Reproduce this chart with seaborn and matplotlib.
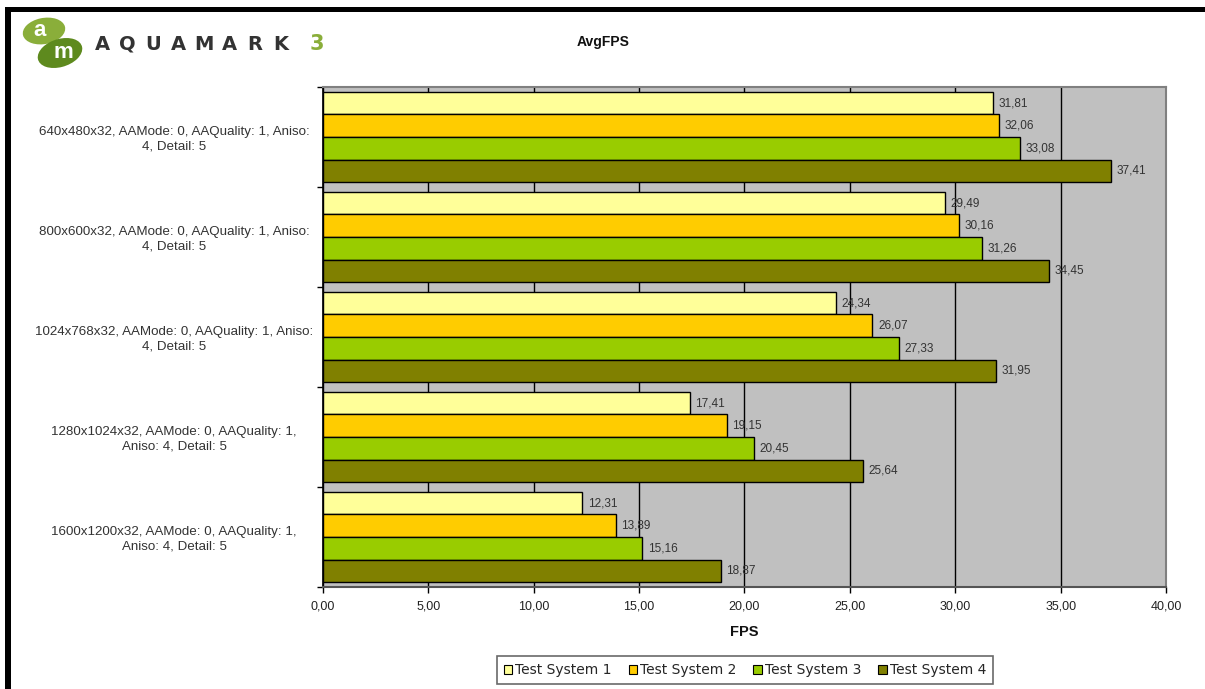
import matplotlib
matplotlib.use("Agg")
import matplotlib.pyplot as plt
import seaborn as sns
import pandas as pd
from matplotlib.patches import Rectangle, Ellipse, Patch

configs = [
    "640x480x32, AAMode: 0, AAQuality: 1, Aniso:\n4, Detail: 5",
    "800x600x32, AAMode: 0, AAQuality: 1, Aniso:\n4, Detail: 5",
    "1024x768x32, AAMode: 0, AAQuality: 1, Aniso:\n4, Detail: 5",
    "1280x1024x32, AAMode: 0, AAQuality: 1,\nAniso: 4, Detail: 5",
    "1600x1200x32, AAMode: 0, AAQuality: 1,\nAniso: 4, Detail: 5",
]
systems = ["Test System 1", "Test System 2", "Test System 3", "Test System 4"]
ts1 = [31.81, 29.49, 24.34, 17.41, 12.31]
ts2 = [32.06, 30.16, 26.07, 19.15, 13.89]
ts3 = [33.08, 31.26, 27.33, 20.45, 15.16]
ts4 = [37.41, 34.45, 31.95, 25.64, 18.87]
colors = ["#FFFF99", "#FFCC00", "#99CC00", "#808000"]
xticks = [0, 5, 10, 15, 20, 25, 30, 35, 40]

rows = []
for s, vals in zip(systems, [ts1, ts2, ts3, ts4]):
    for c, v in zip(configs, vals):
        rows.append({"config": c, "system": s, "fps": v})
df = pd.DataFrame(rows)

sns.set_theme(style="white")
plt.rcParams["font.family"] = ["Liberation Sans", "DejaVu Sans"]

W, H = 1205, 689
fig = plt.figure(figsize=(W / 100, H / 100), dpi=100)
fig.patch.set_facecolor("white")
ax = fig.add_axes([323 / W, 1 - 587 / H, (1166 - 323) / W, (587 - 87) / H])
ax.set_facecolor("#C0C0C0")

sns.barplot(data=df, x="fps", y="config", hue="system", order=configs,
            hue_order=systems, palette=colors, orient="h", saturation=1,
            edgecolor="black", linewidth=1, width=0.905, ax=ax, legend=False,
            errorbar=None, zorder=3)

ax.set_xlim(0, 40)
ax.set_ylim(len(configs) - 0.5, -0.5)
ax.set_xticks(xticks)
ax.set_xticklabels([f"{t:.2f}".replace(".", ",") for t in xticks], fontsize=9, color="#222222")
ax.xaxis.grid(True, color="black", linewidth=1, zorder=1)
ax.set_axisbelow(True)
ax.tick_params(axis="x", direction="out", length=4, width=1, color="black", pad=6, bottom=True)
ax.set_yticks(range(len(configs)))
ax.set_yticklabels(configs, fontsize=9.6, color="#333333", multialignment="center")
ax.tick_params(axis="y", length=0, pad=0)
ax.set_yticks([i - 0.5 for i in range(len(configs) + 1)], minor=True)
ax.tick_params(axis="y", which="minor", direction="out", length=4, width=1, color="black", left=True)
for lbl in ax.get_yticklabels():
    lbl.set_horizontalalignment("center")
    lbl.set_x((174 - 323) / (1166 - 323))

ax.set_xlabel("FPS", fontsize=10.5, fontweight="bold", labelpad=9, color="#111111")
ax.set_ylabel("")

for sp in ["top", "right"]:
    ax.spines[sp].set_color("#808080")
    ax.spines[sp].set_linewidth(1.5)
ax.spines["left"].set_color("black")
ax.spines["bottom"].set_color("#555555")
ax.spines["bottom"].set_linewidth(1.5)

for cont in ax.containers:
    ax.bar_label(cont, labels=[f"{b.get_width():.2f}".replace(".", ",") for b in cont],
                 padding=4, fontsize=8.5, color="#333333")

handles = [Patch(facecolor=c, edgecolor="black", linewidth=0.8) for c in colors]
leg = fig.legend(handles, systems, loc="center", bbox_to_anchor=(745 / W, 1 - 670 / H),
                 ncol=4, frameon=True, fancybox=False, edgecolor="#444444",
                 prop={"family": ["DejaVu Sans"], "size": 10},
                 handlelength=0.6, handleheight=0.6, handletextpad=0.25, columnspacing=1.2,
                 borderpad=0.5, borderaxespad=0)
leg.get_frame().set_linewidth(1.2)

fig.text(603 / W, 1 - 42 / H, "AvgFPS", ha="center", va="center", fontsize=10,
         fontweight="bold", color="#111111")

# decorative frame lines
fig.add_artist(Rectangle((5 / W, 0), 6 / W, 1 - 7 / H, transform=fig.transFigure,
                         facecolor="black", edgecolor="none"))
fig.add_artist(Rectangle((5 / W, 1 - 12 / H), 1, 5 / H, transform=fig.transFigure,
                         facecolor="black", edgecolor="none"))

# logo
fig.add_artist(Ellipse((44 / W, 1 - 31 / H), 40 / W, 28 / H, angle=-30,
                       transform=fig.transFigure, facecolor="#8AAE3A", edgecolor="none"))
fig.add_artist(Ellipse((60 / W, 1 - 53 / H), 40 / W, 32 / H, angle=-30,
                       transform=fig.transFigure, facecolor="#5E8A1E", edgecolor="none"))
fig.text(40 / W, 1 - 31 / H, "a", ha="center", va="center", fontsize=16,
         fontweight="bold", color="white")
fig.text(63 / W, 1 - 53 / H, "m", ha="center", va="center", fontsize=16,
         fontweight="bold", color="white")
for i, ch in enumerate("AQUAMARK"):
    fig.text((102 + i * 25.5) / W, 1 - 44 / H, ch, ha="center", va="center", fontsize=14,
             fontweight="bold", color="#333333", family=["DejaVu Sans"])
fig.text(317 / W, 1 - 44 / H, "3", ha="center", va="center", fontsize=15,
         fontweight="bold", color="#8AAE3A", family=["DejaVu Sans"])

fig.savefig("out.png", dpi=100, facecolor="white")
